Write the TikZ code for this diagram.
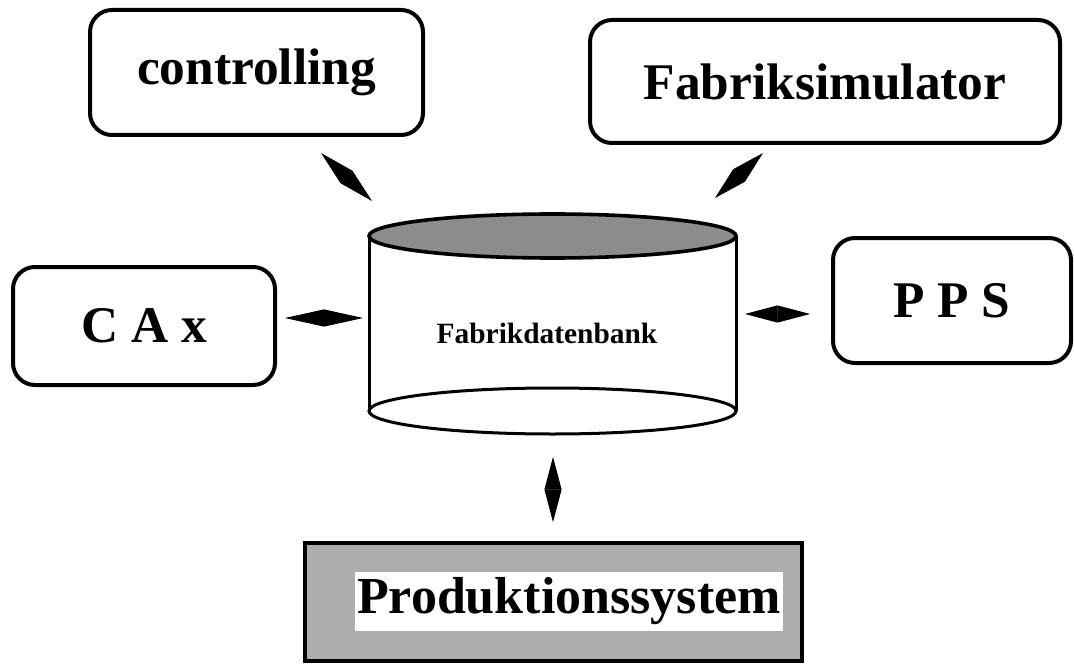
\documentclass[tikz,border=0pt]{standalone}
\usepackage{fontspec}
\setmainfont{Liberation Serif}
\usetikzlibrary{arrows.meta}

\tikzset{
  box/.style={draw, line width=2pt, rounded corners=11pt, inner sep=0pt,
    font=\bfseries\fontsize{25.7}{30}\selectfont},
  dia/.style={line width=0.4pt, arrows={Triangle[length=#1,width=8.5pt]-Triangle[length=#1,width=8.5pt]}}
}

\begin{document}
\begin{tikzpicture}[x=0.5pt,y=-0.5pt]
  \useasboundingbox (0,0) rectangle (1074,663);
  % outer systems
  \node[box, minimum width=166.5pt, minimum height=62.5pt] (ctrl) at (256.5,72.5) {controlling};
  \node[box, minimum width=235pt, minimum height=61.5pt] (fsim) at (825,81.5) {Fabriksimulator};
  \node[box, minimum width=131pt, minimum height=59pt] (cax) at (144,326) {C A x};
  \node[box, minimum width=119pt, minimum height=62.5pt] (pps) at (952,300.5) {P P S};
  % production system
  \node[draw, line width=2pt, fill=black!32, minimum width=248.5pt, minimum height=59pt] (prod) at (553.5,602) {};
  \node[fill=white, inner sep=0pt, minimum width=214pt, minimum height=29.5pt,
    font=\bfseries\fontsize{26}{30}\selectfont] (prodtxt) at (569,601.5) {Produktionssystem};
  % database cylinder
  \draw[line width=1.5pt] (369,236) -- (369,411);
  \draw[line width=1.5pt] (736,236) -- (736,411);
  \draw[line width=1.5pt] (552.5,411) ellipse [x radius=183.5, y radius=23];
  \draw[line width=1.8pt, fill=black!45] (552.5,236) ellipse [x radius=183.5, y radius=22];
  \node[font=\bfseries\fontsize{14.7}{17}\selectfont] (db) at (547,333) {Fabrikdatenbank};
  % connector ends
  \coordinate (ctrl-a) at (321,153);
  \coordinate (db-a) at (372,201);
  \coordinate (fsim-a) at (763,153);
  \coordinate (db-b) at (715,198);
  \coordinate (cax-a) at (285,318);
  \coordinate (db-c) at (363,318);
  \coordinate (pps-a) at (810,314);
  \coordinate (db-d) at (745,314);
  \coordinate (db-e) at (553,457);
  \coordinate (prod-a) at (553,522);
  % double-headed connectors
  \foreach \s/\t/\len in {ctrl-a/db-a/17.5pt, fsim-a/db-b/16.5pt, cax-a/db-c/19.5pt,
      pps-a/db-d/16.25pt, db-e/prod-a/16.25pt}
    \draw[dia=\len] (\s) -- (\t);
\end{tikzpicture}
\end{document}
